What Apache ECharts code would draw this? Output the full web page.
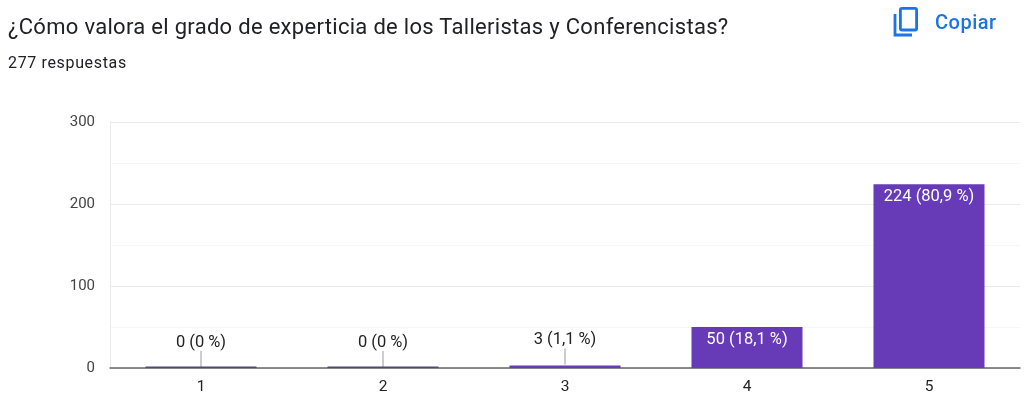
<!DOCTYPE html>
<html><head><meta charset="utf-8">
<script src="https://cdn.jsdelivr.net/npm/echarts@6/dist/echarts.min.js"></script>
<style>
html,body{margin:0;padding:0;background:#fff;}
#wrap{position:relative;width:1024px;height:406px;overflow:hidden;font-family:Roboto,Arial,sans-serif;}
#title{position:absolute;left:8px;top:14px;font-size:22px;color:#202124;letter-spacing:0.3px;white-space:nowrap;}
#sub{position:absolute;left:8px;top:53px;font-size:16px;color:#202124;letter-spacing:0.65px;}
#copy{position:absolute;left:893px;top:7px;display:flex;align-items:center;color:#1a73e8;font-size:20px;font-weight:500;letter-spacing:0.5px;}
#copy svg{margin-right:15px;}
#chart{position:absolute;left:0;top:0;width:1024px;height:406px;}
</style></head>
<body><div id="wrap">
<div id="chart"></div>
<div id="title">¿Cómo valora el grado de experticia de los Talleristas y Conferencistas?</div>
<div id="sub">277 respuestas</div>
<div id="copy"><svg width="27" height="30" viewBox="0 0 27 30"><path d="M2 7 V28 H19" fill="none" stroke="#1a73e8" stroke-width="2.8"/><rect x="7.4" y="1.4" width="16.2" height="21.6" rx="1.5" fill="none" stroke="#1a73e8" stroke-width="2.8"/></svg>Copiar</div>
</div>
<script>
const categories = ['1', '2', '3', '4', '5'];
const values = [0, 0, 3, 50, 224];
const percents = ['0 %', '0 %', '1,1 %', '18,1 %', '80,9 %'];
const yTicks = [0, 100, 200, 300];

const chart = echarts.init(document.getElementById('chart'), null, {renderer: 'canvas'});
const smallLimit = 20;
const barData = values.map((v, i) => ({
  value: v,
  label: v < smallLimit
    ? {position: 'top', distance: 17, color: '#222'}
    : {position: 'insideTop', distance: 4, color: '#fff'}
}));
chart.setOption({
  animation: false,
  grid: {left: 110, right: 4, top: 122, bottom: 38},
  xAxis: {
    type: 'category', data: categories,
    axisLine: {show: true, lineStyle: {color: '#666', width: 1.5}},
    axisTick: {show: false},
    axisLabel: {color: '#222', fontSize: 15.5, fontFamily: 'Roboto', margin: 11}
  },
  yAxis: {
    type: 'value', min: yTicks[0], max: yTicks[yTicks.length - 1], interval: 100,
    axisLine: {show: true, lineStyle: {color: '#ebebeb'}},
    axisTick: {show: false},
    axisLabel: {color: '#444', fontSize: 15, fontFamily: 'Roboto', margin: 15},
    splitLine: {lineStyle: {color: '#ebebeb'}},
    minorTick: {show: false, splitNumber: 2},
    minorSplitLine: {show: true, lineStyle: {color: '#f6f6f6'}}
  },
  series: [{
    type: 'bar', data: barData, barWidth: '61%',
    itemStyle: {color: '#673ab7'},
    label: {
      show: true, fontSize: 16.5, fontFamily: 'Roboto',
      formatter: p => values[p.dataIndex] + ' (' + percents[p.dataIndex] + ')'
    },
    z: 2
  }, {
    type: 'custom',
    data: values.map((v, i) => [i, v]),
    renderItem: (params, api) => {
      const v = api.value(1);
      if (v >= smallLimit) return null;
      const p = api.coord([api.value(0), v]);
      return {type: 'line', shape: {x1: p[0], y1: p[1] - 1, x2: p[0], y2: p[1] - 17},
        style: {stroke: '#999', lineWidth: 1}};
    },
    z: 3, silent: true
  }, {
    type: 'custom',
    data: values.map((v, i) => [i, v]),
    renderItem: (params, api) => {
      if (api.value(1) !== 0) return null;
      const p = api.coord([api.value(0), 0]);
      const w = api.size([1, 0])[0] * 0.61;
      return {type: 'rect', shape: {x: p[0] - w / 2, y: p[1] - 1.5, width: w, height: 1.5},
        style: {fill: '#4b4b6e'}};
    },
    z: 4, silent: true
  }]
});
</script>
</body></html>
